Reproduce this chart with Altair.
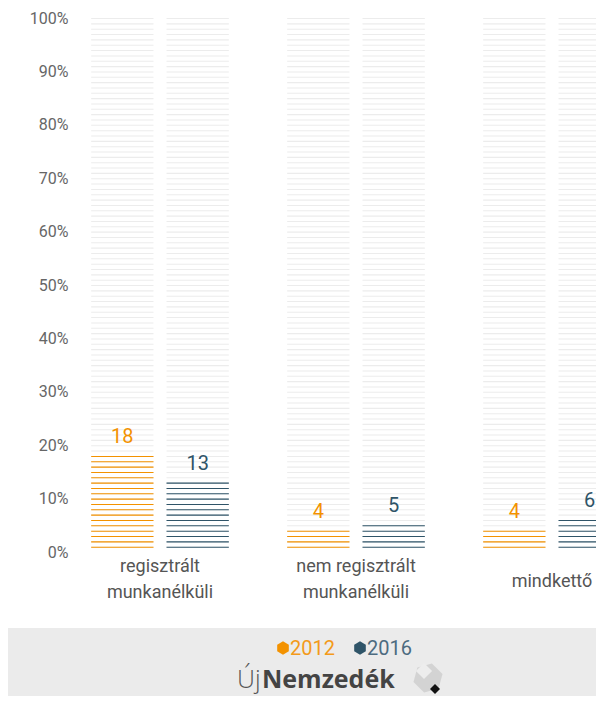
import altair as alt
import pandas as pd

categories = ["regisztrált\nmunkanélküli", "nem regisztrált\nmunkanélküli", "mindkettő"]
years = ["2012", "2016"]
values_2012 = [18, 4, 4]
values_2016 = [13, 5, 6]
levels = list(range(1, 101))
y_ticks = list(range(0, 101, 10))
bar_colors = ["#f39200", "#2f5468"]
text_colors = ["#f39a1a", "#4d6b80"]

rows = []
vals = []
for ci, cat in enumerate(categories):
    for yi, yr in enumerate(years):
        v = [values_2012, values_2016][yi][ci]
        vals.append({"cat": cat, "year": yr, "value": v})
        for k in levels:
            rows.append({"cat": cat, "year": yr, "y0": k - 0.2, "y1": k, "on": k <= v})
stripes = pd.DataFrame(rows)
vals_df = pd.DataFrame(vals)
cats_df = pd.DataFrame({"cat": categories, "zero": [0] * len(categories),
                        "multi": ["\n" in c for c in categories]})

xenc = alt.X("cat:N", sort=categories, axis=None,
             scale=alt.Scale(domain=categories, range=[-8, 580], paddingInner=0, paddingOuter=0))
xoff = alt.XOffset("year:N", scale=alt.Scale(domain=years, paddingInner=0.173, paddingOuter=0.387))
yscale = alt.Scale(domain=[0, 100], nice=False)

bg = alt.Chart(stripes).mark_bar(color="#ececec").encode(
    x=xenc, xOffset=xoff,
    y=alt.Y("y0:Q", scale=yscale,
            axis=alt.Axis(values=y_ticks, labelExpr="datum.value + '%'", domain=False, ticks=False,
                          grid=False, labelPadding=2, labelFontSize=16, labelColor="#666",
                          labelFont="Roboto", title=None)),
    y2="y1:Q",
)

fg = alt.Chart(stripes).transform_filter("datum.on").mark_bar().encode(
    x=xenc, xOffset=xoff,
    y=alt.Y("y0:Q", scale=yscale), y2="y1:Q",
    color=alt.Color("year:N", scale=alt.Scale(domain=years, range=bar_colors), legend=None),
)

val_text = alt.Chart(vals_df).mark_text(dy=-19, fontSize=20, baseline="middle", font="Roboto").encode(
    x=xenc, xOffset=xoff,
    y=alt.Y("value:Q", scale=yscale),
    text="value:Q",
    color=alt.Color("year:N", scale=alt.Scale(domain=years, range=text_colors), legend=None),
)

cat_text_multi = alt.Chart(cats_df).transform_filter("datum.multi").mark_text(
    lineBreak="\n", baseline="middle", dy=15, fontSize=18, color="#555", lineHeight=26, font="Roboto"
).encode(x=xenc, y=alt.Y("zero:Q", scale=yscale), text="cat:N")

cat_text_single = alt.Chart(cats_df).transform_filter("!datum.multi").mark_text(
    baseline="middle", dy=30, fontSize=18, color="#555", font="Roboto"
).encode(x=xenc, y=alt.Y("zero:Q", scale=yscale), text="cat:N")

footer = alt.Chart(cats_df.head(1)).mark_rect(color="#ebebeb").encode(
    x=alt.value(-62), x2=alt.value(526), y=alt.value(610), y2=alt.value(700)
)

hexpath = "M0,-1 L0.866,-0.5 L0.866,0.5 L0,1 L-0.866,0.5 L-0.866,-0.5 Z"
legend_layers = []
for i, (yr, hx, tx) in enumerate(zip(years, [213, 290], [220, 297])):
    one = pd.DataFrame({"year": [yr]})
    legend_layers.append(alt.Chart(one).mark_point(shape=hexpath, filled=True, size=180, opacity=1,
                                                   color=bar_colors[i]).encode(
        x=alt.value(hx), y=alt.value(630)))
    legend_layers.append(alt.Chart(one).mark_text(align="left", baseline="middle", fontSize=20,
                                                  font="Roboto", color=text_colors[i]).encode(
        x=alt.value(tx), y=alt.value(631), text="year:N"))

logo_df = pd.DataFrame({"a": ["Új"], "b": ["Nemzedék"]})
logo1 = alt.Chart(logo_df).mark_text(align="left", baseline="alphabetic", fontSize=25, font="Open Sans",
                                     fontWeight=300, color="#555").encode(
    x=alt.value(167), y=alt.value(670), text="a:N")
logo2 = alt.Chart(logo_df).mark_text(align="left", baseline="alphabetic", fontSize=25, font="Open Sans",
                                     fontWeight="bold", color="#444").encode(
    x=alt.value(192), y=alt.value(670), text="b:N")
cube = alt.Chart(logo_df).mark_point(shape=hexpath, filled=True, size=900, color="#d3d3d3",
                                     opacity=1, angle=15).encode(
    x=alt.value(358), y=alt.value(660))
cube_top = alt.Chart(logo_df).mark_point(shape="diamond", filled=True, size=260, color="#ededed",
                                         opacity=1).encode(
    x=alt.value(354), y=alt.value(653))
cube2 = alt.Chart(logo_df).mark_point(shape="diamond", filled=True, size=100, color="#111", opacity=1).encode(
    x=alt.value(365), y=alt.value(671))

chart = alt.layer(footer, bg, fg, val_text, cat_text_multi, cat_text_single, *legend_layers,
                  logo1, logo2, cube, cube_top, cube2).properties(
    width=526, height=534,
    autosize=alt.AutoSizeParams(type="none"),
    padding={"left": 62, "top": 10, "right": 0, "bottom": 144},
    background="white",
).configure_view(stroke=None)

chart.save("out.html", embed_options={"renderer": "svg", "actions": False})
